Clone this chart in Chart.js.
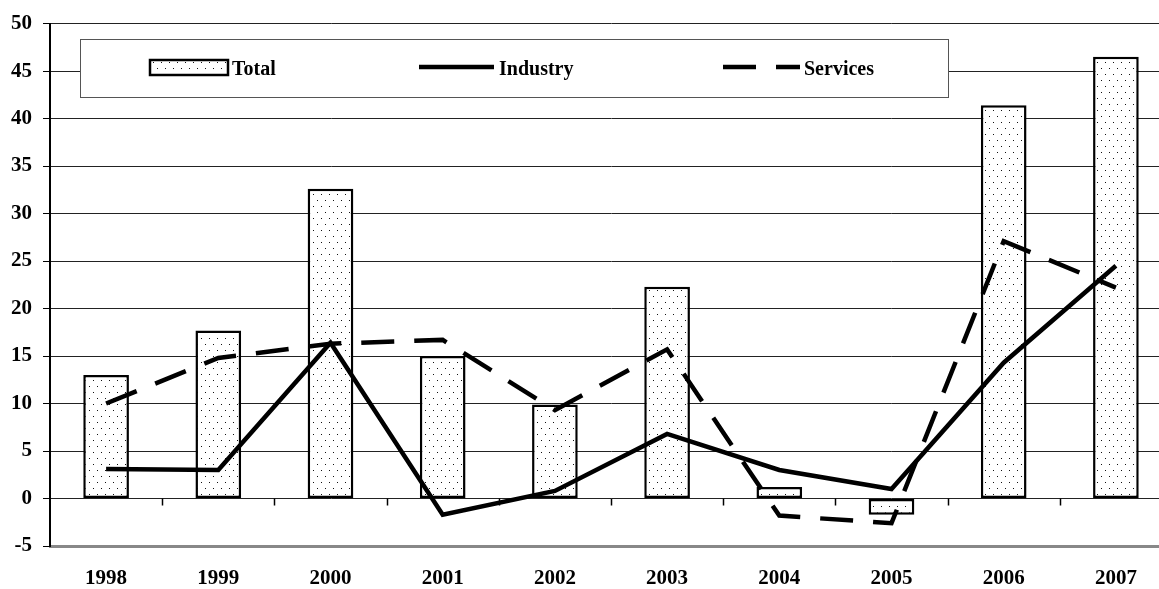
<!DOCTYPE html>
<html>
<head>
<meta charset="utf-8">
<script src="https://cdn.jsdelivr.net/npm/chart.js@4.4.1/dist/chart.umd.min.js"></script>
<style>
  html, body { margin: 0; padding: 0; background: #fff; overflow: hidden; }
  #wrap { position: relative; width: 1159px; height: 589px; overflow: hidden; }
  canvas { position: absolute; left: 0; top: 0; }
</style>
</head>
<body>
<div id="wrap"><canvas id="chart" width="1172" height="589"></canvas></div>
<script>
// values
var years    = ['1998', '1999', '2000', '2001', '2002', '2003', '2004', '2005', '2006', '2007'];
var total    = [13.0, 17.7, 32.6, 15.0, 9.9, 22.3, 1.2, -1.7, 41.4, 46.5];
var industry = [3.1, 3.0, 16.4, -1.7, 0.8, 6.8, 3.0, 1.0, 14.3, 24.5];
var services = [10.0, 14.8, 16.3, 16.7, 9.3, 15.7, -1.8, -2.6, 27.1, 22.2];
var yTicks   = { min: -5, max: 50, step: 5 };

var FONT = '"Liberation Serif", "Times New Roman", serif';

// dotted fill like the excel pattern
function makeDots() {
    var c = document.createElement('canvas');
    c.width = 8; c.height = 12;
    var g = c.getContext('2d');
    g.fillStyle = '#fff';
    g.fillRect(0, 0, 8, 12);
    g.fillStyle = '#111';
    g.fillRect(1, 2, 1, 1);
    g.fillRect(5, 8, 1, 1);
    return g.createPattern(c, 'repeat');
}
var dots = makeDots();

// legend box drawn inside the plot
var boxLegend = {
    id: 'boxLegend',
    beforeDatasetsDraw: function(chart) {
        var ctx = chart.ctx;
        ctx.save();
        ctx.fillStyle = '#fff';
        ctx.fillRect(80, 39, 868, 58);
        ctx.strokeStyle = '#555';
        ctx.lineWidth = 1;
        ctx.strokeRect(80.5, 39.5, 868, 58);

        var ds = chart.data.datasets;
        var cy = 67;
        ctx.font = 'bold 20px ' + FONT;
        ctx.textBaseline = 'alphabetic';

        // Total swatch
        ctx.fillStyle = dots;
        ctx.fillRect(150, 60, 78, 15);
        ctx.strokeStyle = '#000';
        ctx.lineWidth = 2.5;
        ctx.strokeRect(150, 60, 78, 15);
        ctx.fillStyle = '#000';
        ctx.fillText(ds[0].label, 232, 75);

        // Industry
        ctx.lineWidth = 4.5;
        ctx.beginPath();
        ctx.moveTo(419, cy); ctx.lineTo(494, cy);
        ctx.stroke();
        ctx.fillText(ds[1].label, 499, 75);

        // Services
        ctx.setLineDash([33, 20]);
        ctx.beginPath();
        ctx.moveTo(723, cy); ctx.lineTo(800, cy);
        ctx.stroke();
        ctx.setLineDash([]);
        ctx.fillText(ds[2].label, 804, 75);
        ctx.restore();
    }
};

// small tick marks on the zero line between categories
var zeroTicks = {
    id: 'zeroTicks',
    afterDatasetsDraw: function(chart) {
        var ctx = chart.ctx;
        var x = chart.scales.x, y = chart.scales.y;
        var y0 = y.getPixelForValue(0);
        var half = (x.getPixelForValue(1) - x.getPixelForValue(0)) / 2;
        ctx.save();
        ctx.strokeStyle = '#000';
        ctx.lineWidth = 1.5;
        for (var i = 0; i < years.length; i++) {
            var px = Math.round(x.getPixelForValue(i) + half) + 0.5;
            ctx.beginPath();
            ctx.moveTo(px, y0);
            ctx.lineTo(px, y0 + 7);
            ctx.stroke();
        }
        ctx.restore();
    }
};

var chart = new Chart(document.getElementById('chart').getContext('2d'), {
    type: 'bar',
    data: {
        labels: years,
        datasets: [{
            type: 'bar',
            label: 'Total',
            data: total,
            backgroundColor: dots,
            borderColor: '#000',
            borderWidth: 2.5,
            borderSkipped: false,
            barPercentage: 0.407,
            categoryPercentage: 1,
            order: 2
        }, {
            type: 'line',
            label: 'Industry',
            data: industry,
            borderColor: '#000',
            borderWidth: 4.5,
            pointRadius: 0,
            tension: 0,
            fill: false,
            order: 1
        }, {
            type: 'line',
            label: 'Services',
            data: services,
            borderColor: '#000',
            borderWidth: 4.5,
            borderDash: [33, 20],
            pointRadius: 0,
            tension: 0,
            fill: false,
            order: 1
        }]
    },
    options: {
        responsive: false,
        animation: false,
        layout: { padding: { top: 22, right: 0, left: 0, bottom: 0 } },
        plugins: {
            legend: { display: false },
            tooltip: { enabled: false }
        },
        scales: {
            x: {
                grid: { display: false, drawTicks: false },
                border: { display: true, color: '#888', width: 3 },
                ticks: {
                    color: '#000',
                    padding: 20,
                    font: { family: FONT, size: 21, weight: 'bold' }
                },
                afterFit: function(scale) { scale.height = 43; }
            },
            y: {
                min: yTicks.min,
                max: yTicks.max,
                ticks: {
                    stepSize: yTicks.step,
                    color: '#000',
                    padding: 11,
                    font: { family: FONT, size: 21, weight: 'bold' }
                },
                grid: {
                    color: '#222',
                    lineWidth: 1,
                    drawTicks: true,
                    tickLength: 7,
                    tickColor: '#000'
                },
                border: { display: true, color: '#000', width: 2 },
                afterFit: function(scale) { scale.width = 50; }
            }
        }
    },
    plugins: [boxLegend, zeroTicks]
});
</script>
</body>
</html>
